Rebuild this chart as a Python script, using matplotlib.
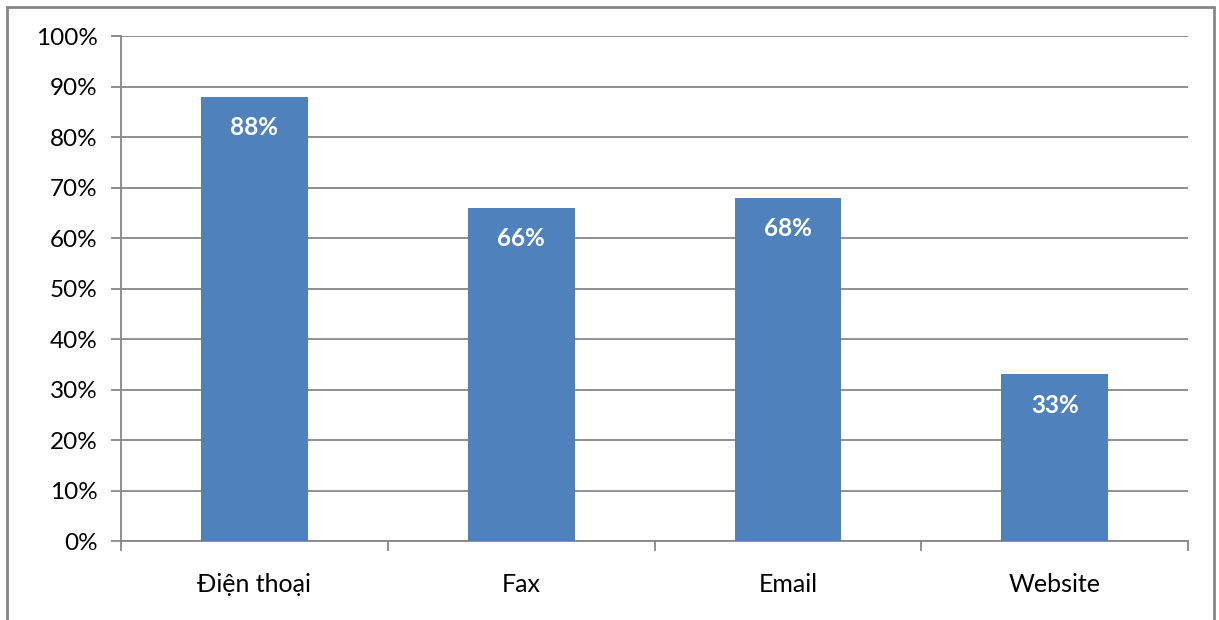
import matplotlib.pyplot as plt
from matplotlib.patches import Rectangle
from matplotlib.ticker import FixedLocator, PercentFormatter

categories = ["Điện thoại", "Fax", "Email", "Website"]
shares = [88, 66, 68, 33]

bar_color = "#4F81BD"
grid_color = "#878787"

plt.rcParams["font.family"] = ["Lato", "DejaVu Sans"]

fig = plt.figure(figsize=(12.19, 6.2), dpi=100)
ax = fig.add_axes([0.0993, 0.1274, 0.8753, 0.8145])

x = range(len(categories))
bars = ax.bar(x, shares, width=0.4, color=bar_color, zorder=3)

for rect, v in zip(bars, shares):
    ax.annotate(f"{v}%", (rect.get_x() + rect.get_width() / 2, v),
                xytext=(0, -31), textcoords="offset pixels",
                ha="center", va="center", color="white", fontsize=17.5,
                fontweight="bold", zorder=4)

ax.set_xlim(-0.5, len(categories) - 0.5)
ax.set_ylim(0, 100)
ax.set_yticks(range(0, 101, 10))
ax.yaxis.set_major_formatter(PercentFormatter(decimals=0))
ax.grid(axis="y", color=grid_color, linewidth=1.3, zorder=0)

# category labels centred, tick marks between categories
ax.set_xticks(list(x))
ax.set_xticklabels(categories)
ax.xaxis.set_minor_locator(FixedLocator([i - 0.5 for i in range(len(categories) + 1)]))
ax.tick_params(axis="x", which="major", length=0, pad=23, labelsize=18)
ax.tick_params(axis="x", which="minor", length=7, width=1.3, color=grid_color)
ax.tick_params(axis="y", length=7, width=1.3, color=grid_color, labelsize=17.5, pad=10)

for side in ("top", "right"):
    ax.spines[side].set_visible(False)
for side in ("left", "bottom"):
    ax.spines[side].set_color(grid_color)
    ax.spines[side].set_linewidth(1.3)

# outer chart frame, running off the bottom edge
fig.patches.append(Rectangle((7 / 1219, -0.05), 1207 / 1219, 1 - 7 / 620 + 0.05,
                             transform=fig.transFigure, fill=False,
                             edgecolor="#868686", linewidth=2))

fig.savefig("out.png", dpi=100)
